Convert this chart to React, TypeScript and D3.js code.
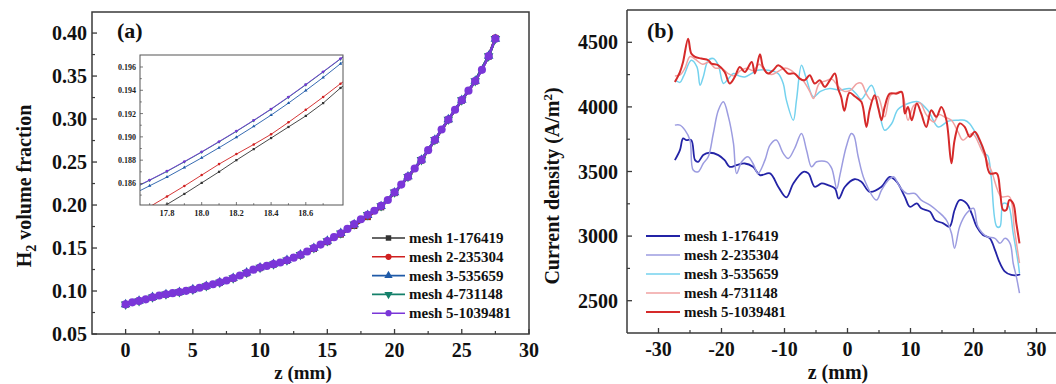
import React from 'react';
import * as d3 from 'd3';

const FONT = '"Liberation Serif", "Times New Roman", serif';

// ---------------- Panel (a) data ----------------
const zMain = [0, 0.5, 1, 1.5, 2, 2.5, 3, 3.5, 4, 4.5, 5, 5.5, 6, 6.5, 7, 7.5, 8, 8.5, 9, 9.5, 10, 10.5, 11, 11.5, 12, 12.5, 13, 13.5, 14, 14.5, 15, 15.5, 16, 16.5, 17, 17.5, 18, 18.5, 19, 19.5, 20, 20.5, 21, 21.5, 22, 22.5, 23, 23.5, 24, 24.5, 25, 25.5, 26, 26.5, 27, 27.5];
const mesh5Main = [0.0845, 0.0868, 0.0885, 0.0903, 0.0928, 0.0948, 0.0962, 0.0975, 0.0988, 0.1002, 0.1018, 0.1038, 0.1058, 0.1078, 0.1100, 0.1122, 0.1150, 0.1180, 0.1213, 0.1248, 0.1272, 0.1292, 0.1312, 0.1332, 0.1358, 0.1388, 0.1422, 0.1460, 0.1500, 0.1540, 0.1582, 0.1626, 0.1672, 0.1722, 0.1778, 0.1834, 0.1887, 0.1934, 0.1990, 0.2058, 0.2148, 0.2238, 0.2330, 0.2425, 0.2525, 0.2638, 0.2758, 0.2878, 0.2994, 0.3108, 0.3220, 0.3330, 0.3442, 0.3572, 0.3732, 0.3935];
const zMainCoarse = [0, 1, 2, 3, 4, 5, 6, 7, 8, 9, 10, 11, 12, 13, 14, 15, 16, 17, 18, 19, 20, 21, 22, 23, 24, 25, 26, 27, 27.5];
const mesh1Main = [0.0843, 0.0884, 0.0925, 0.0960, 0.0986, 0.1015, 0.1055, 0.1097, 0.1146, 0.1208, 0.1268, 0.1308, 0.1352, 0.1415, 0.1490, 0.1570, 0.1658, 0.1758, 0.1861, 0.1975, 0.2140, 0.2325, 0.2520, 0.2752, 0.2990, 0.3215, 0.3440, 0.3728, 0.3940];
const mesh2Main = [0.0846, 0.0886, 0.0927, 0.0961, 0.0989, 0.1017, 0.1057, 0.1098, 0.1148, 0.1210, 0.1270, 0.1310, 0.1355, 0.1418, 0.1494, 0.1575, 0.1663, 0.1764, 0.1867, 0.1980, 0.2143, 0.2327, 0.2522, 0.2755, 0.2992, 0.3218, 0.3441, 0.3730, 0.3945];
const mesh3Main = [0.0844, 0.0885, 0.0929, 0.0963, 0.0987, 0.1019, 0.1059, 0.1101, 0.1151, 0.1214, 0.1273, 0.1313, 0.1359, 0.1423, 0.1501, 0.1583, 0.1673, 0.1775, 0.1882, 0.1985, 0.2146, 0.2331, 0.2527, 0.2760, 0.2996, 0.3222, 0.3444, 0.3735, 0.3930];
const mesh4Main = [0.0845, 0.0884, 0.0928, 0.0962, 0.0988, 0.1018, 0.1058, 0.1100, 0.1150, 0.1213, 0.1272, 0.1312, 0.1358, 0.1422, 0.1500, 0.1582, 0.1672, 0.1777, 0.1886, 0.1989, 0.2148, 0.2330, 0.2525, 0.2758, 0.2994, 0.3220, 0.3442, 0.3732, 0.3935];

const zInset = [17.6, 17.7, 17.8, 17.9, 18.0, 18.1, 18.2, 18.3, 18.4, 18.5, 18.6, 18.7, 18.8, 18.9];
const mesh1Inset = [0.18245, 0.18330, 0.18420, 0.18510, 0.18605, 0.18700, 0.18800, 0.18895, 0.18990, 0.19085, 0.19180, 0.19290, 0.19420, 0.19530];
const mesh2Inset = [0.18310, 0.18400, 0.18488, 0.18578, 0.18672, 0.18766, 0.18852, 0.18935, 0.19022, 0.19125, 0.19232, 0.19342, 0.19457, 0.19560];
const mesh3Inset = [0.18505, 0.18580, 0.18655, 0.18737, 0.18820, 0.18907, 0.18997, 0.19090, 0.19187, 0.19290, 0.19398, 0.19510, 0.19628, 0.19748];
const mesh4Inset = [0.18552, 0.18627, 0.18703, 0.18785, 0.18869, 0.18957, 0.19047, 0.19140, 0.19237, 0.19340, 0.19447, 0.19557, 0.19669, 0.19787];
const mesh5Inset = [0.18555, 0.18630, 0.18706, 0.18788, 0.18872, 0.18960, 0.19050, 0.19143, 0.19240, 0.19343, 0.19450, 0.19560, 0.19672, 0.19790];

const xTicksA = [0, 5, 10, 15, 20, 25, 30];
const yTicksA = [0.05, 0.10, 0.15, 0.20, 0.25, 0.30, 0.35, 0.40];
const xTicksInset = [17.8, 18.0, 18.2, 18.4, 18.6];
const yTicksInset = [0.186, 0.188, 0.190, 0.192, 0.194, 0.196];

const meshNames = ['mesh 1-176419', 'mesh 2-235304', 'mesh 3-535659', 'mesh 4-731148', 'mesh 5-1039481'];

// ---------------- Panel (b) data ----------------
const zB1 = [-27.4, -26.6, -26.1, -25.6, -24.8, -24.2, -23.7, -22.9, -21.9, -20.5, -19.5, -18.7, -17.6, -16.3, -15.0, -13.9, -12.3, -11.0, -9.7, -8.6, -7.0, -6.2, -5.2, -4.1, -3.1, -2.0, -1.4, -0.4, 1.1, 2.2, 3.5, 5.4, 6.7, 7.8, 9.1, 9.9, 11.0, 11.7, 13.1, 13.9, 15.2, 16.2, 17.0, 17.8, 18.9, 19.7, 20.5, 21.5, 22.6, 23.4, 24.2, 25.0, 26.0, 27.1, 27.4];
const cd1 = [3588, 3665, 3756, 3743, 3743, 3588, 3575, 3627, 3645, 3627, 3588, 3536, 3549, 3562, 3536, 3472, 3485, 3382, 3300, 3408, 3498, 3485, 3382, 3408, 3395, 3369, 3290, 3382, 3440, 3421, 3343, 3382, 3459, 3421, 3304, 3227, 3253, 3215, 3189, 3124, 3099, 3073, 3202, 3279, 3253, 3176, 3073, 3009, 2983, 2893, 2790, 2725, 2699, 2699, 2705];

const zB2 = [-27.4, -26.6, -25.8, -25.0, -24.5, -23.7, -22.9, -22.1, -21.3, -20.5, -19.7, -18.9, -18.1, -17.6, -16.8, -15.8, -15.0, -14.2, -13.1, -12.3, -11.3, -10.2, -9.4, -8.4, -7.3, -6.5, -5.7, -4.9, -3.3, -2.5, -1.7, -1.2, -0.2, 0.6, 1.0, 1.7, 2.7, 4.6, 5.4, 6.5, 7.3, 8.3, 9.4, 10.7, 11.7, 13.1, 14.4, 15.7, 16.5, 17.0, 17.8, 18.9, 20.0, 20.7, 22.1, 23.4, 24.2, 25.0, 25.8, 26.3, 26.8, 27.3];
const cd2 = [3859, 3859, 3820, 3743, 3511, 3498, 3562, 3614, 3794, 3974, 4039, 3923, 3717, 3485, 3575, 3614, 3562, 3485, 3588, 3704, 3743, 3640, 3601, 3678, 3794, 3665, 3536, 3575, 3575, 3524, 3369, 3472, 3691, 3794, 3780, 3614, 3434, 3279, 3356, 3434, 3459, 3382, 3330, 3330, 3279, 3240, 3189, 3124, 3022, 2906, 3073, 3176, 3215, 3073, 2996, 2983, 2944, 2983, 2944, 2790, 2686, 2558];

const zB3 = [-27.4, -26.6, -26.0, -24.8, -23.9, -23.4, -22.9, -22.1, -21.3, -20.5, -19.7, -18.9, -18.1, -17.2, -16.3, -15.2, -14.3, -12.6, -11.0, -10.2, -9.7, -8.6, -8.1, -7.3, -6.6, -5.4, -4.3, -2.8, -1.3, 0.4, 1.4, 2.2, 3.8, 4.9, 5.9, 7.0, 8.0, 9.6, 11.2, 12.8, 14.4, 16.0, 17.6, 18.6, 19.4, 20.9, 21.8, 22.3, 22.8, 23.7, 24.2, 24.7, 25.5, 26.3, 27.1, 27.3];
const cd3 = [4210, 4190, 4240, 4361, 4310, 4168, 4232, 4361, 4374, 4322, 4181, 4219, 4258, 4240, 4232, 4260, 4284, 4284, 4258, 4181, 4052, 3897, 4052, 4322, 4230, 4077, 4120, 4142, 4130, 4142, 4100, 4060, 4168, 4000, 3820, 3870, 3980, 4026, 4040, 3970, 3845, 3890, 3897, 3897, 3870, 3743, 3640, 3620, 3460, 3073, 3073, 3253, 3240, 3022, 2790, 2712];

const zB4 = [-27.4, -26.5, -25.8, -25.0, -24.2, -23.0, -22.0, -21.0, -20.0, -19.0, -18.0, -17.0, -16.0, -15.0, -14.0, -13.0, -12.0, -11.0, -10.0, -9.0, -8.0, -7.0, -6.0, -5.4, -4.5, -3.5, -2.5, -1.5, -0.5, 0.5, 1.5, 2.2, 3.0, 3.8, 4.8, 5.9, 6.8, 7.8, 8.6, 9.6, 10.5, 11.5, 12.5, 13.7, 14.5, 15.5, 16.5, 17.6, 18.3, 19.8, 21.3, 22.8, 24.4, 25.7, 26.5, 27.3];
const cd4 = [4240, 4250, 4300, 4390, 4370, 4330, 4345, 4300, 4300, 4260, 4240, 4280, 4300, 4280, 4330, 4270, 4250, 4275, 4300, 4285, 4240, 4200, 4120, 4065, 4180, 4200, 4215, 4160, 4120, 4130, 4180, 4183, 4100, 4052, 4080, 3923, 4090, 4110, 4116, 3897, 4010, 4030, 3940, 3884, 3940, 3920, 3897, 3800, 3743, 3794, 3665, 3511, 3305, 3305, 3048, 2790];

const zB5 = [-27.4, -26.6, -26.1, -25.3, -24.8, -24.2, -23.2, -22.1, -21.6, -20.5, -19.5, -18.7, -17.9, -17.1, -16.3, -15.2, -14.7, -13.9, -13.4, -12.6, -11.8, -11.0, -10.2, -9.4, -8.4, -7.6, -6.8, -6.0, -5.2, -4.4, -3.6, -2.8, -2.0, -1.5, -1.0, -0.5, 0.3, 1.2, 2.2, 3.0, 3.5, 4.3, 4.9, 5.4, 5.9, 6.7, 7.8, 8.6, 9.1, 9.6, 10.2, 11.0, 11.7, 12.5, 13.3, 14.1, 14.9, 15.7, 16.5, 17.0, 17.8, 18.6, 19.4, 20.2, 21.0, 21.8, 22.6, 23.7, 24.2, 24.7, 25.2, 25.7, 26.3, 26.8, 27.3];
const cd5 = [4193, 4270, 4348, 4528, 4413, 4387, 4374, 4361, 4335, 4322, 4270, 4181, 4232, 4309, 4270, 4348, 4258, 4407, 4309, 4258, 4284, 4322, 4296, 4258, 4258, 4219, 4206, 4245, 4181, 4206, 4155, 4206, 4258, 4142, 4077, 3970, 4110, 4080, 4039, 3845, 3974, 4090, 3988, 3897, 4000, 4103, 4103, 4116, 3949, 4000, 3897, 4026, 3949, 3845, 3974, 3923, 4000, 3897, 3563, 3743, 3872, 3845, 3768, 3807, 3743, 3640, 3485, 3485, 3356, 3202, 3202, 3279, 3253, 3099, 2944];

const xTicksB = [-30, -20, -10, 0, 10, 20, 30];
const yTicksB = [2500, 3000, 3500, 4000, 4500];

// ---------------- styles ----------------
const colorsA = ['#333333', '#d02020', '#1f5aa8', '#14806a', '#7a36d8'];
const symbolsA = [d3.symbolSquare, d3.symbolCircle, d3.symbolTriangle, d3.symbolTriangle, d3.symbolCircle];
const rotateA = [0, 0, 0, 180, 0];
const colorsB = ['#2323a6', '#9c9ce0', '#74d2ee', '#f0a2a2', '#d62a2a'];
const widthsB = [1.8, 1.5, 1.5, 1.5, 2];

// Layout
const A = { left: 92, right: 529, top: 12, bottom: 334 };
const INS = { left: 140, right: 343, top: 55, bottom: 205 };
const B = { left: 627, right: 1068, top: 10, bottom: 333 };

export default function App() {
  const xA = d3.scaleLinear().domain([-2.5, 30]).range([A.left, A.right]);
  const yA = d3.scaleLinear().domain([0.05, 0.4245]).range([A.bottom, A.top]);
  const xI = d3.scaleLinear().domain([17.6444, 18.8144]).range([INS.left, INS.right]);
  const yI = d3.scaleLinear().domain([0.18415, 0.19703]).range([INS.bottom, INS.top]);
  const xB = d3.scaleLinear().domain([-35, 35]).range([B.left, B.right]);
  const yB = d3.scaleLinear().domain([2250, 4750]).range([B.bottom, B.top]);

  const mainSeries = [
    { z: zMainCoarse, v: mesh1Main },
    { z: zMainCoarse, v: mesh2Main },
    { z: zMainCoarse, v: mesh3Main },
    { z: zMainCoarse, v: mesh4Main },
    { z: zMain, v: mesh5Main },
  ];
  const insetSeries = [mesh1Inset, mesh2Inset, mesh3Inset, mesh4Inset, mesh5Inset];
  const bSeries = [
    { z: zB1, v: cd1 },
    { z: zB2, v: cd2 },
    { z: zB3, v: cd3 },
    { z: zB4, v: cd4 },
    { z: zB5, v: cd5 },
  ];

  const mkLine = (xs: number[], ys: number[], sx: any, sy: any, curve: any = d3.curveLinear) =>
    d3.line<number>().x((_, i) => sx(xs[i])).y((d) => sy(d)).curve(curve)(ys) || '';

  const sym = (i: number, size: number) => d3.symbol().type(symbolsA[i]).size(size)() || '';

  const axisColor = '#3a3a3a';
  const tickFont = { fontFamily: FONT, fontWeight: 700, fontSize: 20, fill: '#111' } as const;

  const xMinorA = [2.5, 7.5, 12.5, 17.5, 22.5, 27.5];
  const yMinorA = [0.075, 0.125, 0.175, 0.225, 0.275, 0.325, 0.375];
  const xMinorI = [17.7, 17.9, 18.1, 18.3, 18.5, 18.7];
  const yMinorI = [0.185, 0.187, 0.189, 0.191, 0.193, 0.195];
  const xMinorB = [-25, -15, -5, 5, 15, 25];
  const yMinorB = [2750, 3250, 3750, 4250];

  return (
    <svg width={1056} height={384} style={{ position: 'absolute', left: 0, top: 0, background: '#fff' }}>
      <defs>
        <clipPath id="clipA"><rect x={A.left} y={A.top} width={A.right - A.left} height={A.bottom - A.top} /></clipPath>
        <clipPath id="clipI"><rect x={INS.left} y={INS.top} width={INS.right - INS.left} height={INS.bottom - INS.top} /></clipPath>
        <clipPath id="clipB"><rect x={B.left} y={B.top} width={B.right - B.left} height={B.bottom - B.top} /></clipPath>
      </defs>
      <rect x={0} y={0} width={1056} height={384} fill="#fff" />

      {/* ---------- Panel (a) ---------- */}
      <g clipPath="url(#clipA)">
        {mainSeries.map((s, i) => (
          <g key={i}>
            <path d={mkLine(s.z, s.v, xA, yA)} fill="none" stroke={colorsA[i]} strokeWidth={2.5} />
            {s.v.map((v, j) => (
              <path key={j} d={sym(i, i === 4 ? 52 : 40)}
                transform={`translate(${xA(s.z[j])},${yA(v)}) rotate(${rotateA[i]})`}
                fill={colorsA[i]} />
            ))}
          </g>
        ))}
      </g>

      {/* inset */}
      <rect x={INS.left} y={INS.top} width={INS.right - INS.left} height={INS.bottom - INS.top} fill="#fff" />
      <g clipPath="url(#clipI)">
        {insetSeries.map((vals, i) => (
          <g key={i}>
            <path d={mkLine(zInset, vals, xI, yI)} fill="none" stroke={colorsA[i]} strokeWidth={0.9} />
            {vals.map((v, j) => (
              <path key={j} d={sym(i, 5)}
                transform={`translate(${xI(zInset[j])},${yI(v)}) rotate(${rotateA[i]})`}
                fill={colorsA[i]} />
            ))}
          </g>
        ))}
      </g>
      <rect x={INS.left} y={INS.top} width={INS.right - INS.left} height={INS.bottom - INS.top} fill="none" stroke="#555" strokeWidth={1} />
      {xTicksInset.map((t) => (
        <g key={t}>
          <line x1={xI(t)} x2={xI(t)} y1={INS.bottom} y2={INS.bottom - 3} stroke="#555" strokeWidth={0.8} />
          <text x={xI(t)} y={INS.bottom + 11} textAnchor="middle" fontFamily={FONT} fontWeight={700} fontSize={8.5} fill="#222">{t.toFixed(1)}</text>
        </g>
      ))}
      {xMinorI.map((t) => (
        <line key={t} x1={xI(t)} x2={xI(t)} y1={INS.bottom} y2={INS.bottom - 1.8} stroke="#555" strokeWidth={0.8} />
      ))}
      {yTicksInset.map((t) => (
        <g key={t}>
          <line x1={INS.left} x2={INS.left + 3} y1={yI(t)} y2={yI(t)} stroke="#555" strokeWidth={0.8} />
          <text x={INS.left - 4} y={yI(t) + 3} textAnchor="end" fontFamily={FONT} fontWeight={700} fontSize={8} fill="#222">{t.toFixed(3)}</text>
        </g>
      ))}
      {yMinorI.map((t) => (
        <line key={t} x1={INS.left} x2={INS.left + 1.8} y1={yI(t)} y2={yI(t)} stroke="#555" strokeWidth={0.8} />
      ))}

      {/* frame & ticks A */}
      <rect x={A.left} y={A.top} width={A.right - A.left} height={A.bottom - A.top} fill="none" stroke={axisColor} strokeWidth={1.5} />
      {xTicksA.map((t) => (
        <g key={t}>
          <line x1={xA(t)} x2={xA(t)} y1={A.bottom} y2={A.bottom - 5} stroke={axisColor} strokeWidth={1.3} />
          <text x={xA(t)} y={357} textAnchor="middle" {...tickFont}>{t}</text>
        </g>
      ))}
      {xMinorA.map((t) => (
        <line key={t} x1={xA(t)} x2={xA(t)} y1={A.bottom} y2={A.bottom - 3} stroke={axisColor} strokeWidth={1.2} />
      ))}
      {yTicksA.map((t) => (
        <g key={t}>
          <line x1={A.left} x2={A.left + 5} y1={yA(t)} y2={yA(t)} stroke={axisColor} strokeWidth={1.3} />
          <text x={87} y={yA(t) + 7} textAnchor="end" {...tickFont}>{t.toFixed(2)}</text>
        </g>
      ))}
      {yMinorA.map((t) => (
        <line key={t} x1={A.left} x2={A.left + 3} y1={yA(t)} y2={yA(t)} stroke={axisColor} strokeWidth={1.2} />
      ))}
      <text x={117} y={38} fontFamily={FONT} fontWeight={700} fontSize={22} fill="#111">(a)</text>
      <text x={303} y={379} textAnchor="middle" fontFamily={FONT} fontWeight={700} fontSize={19} fill="#111">z (mm)</text>
      <text transform="translate(31,186) rotate(-90)" textAnchor="middle" fontFamily={FONT} fontWeight={700} fontSize={20} fill="#111">
        H<tspan dy={5} fontSize={14}>2</tspan><tspan dy={-5}> volume fraction</tspan>
      </text>

      {/* legend A */}
      {meshNames.map((n, i) => {
        const y = 238 + i * 18.8;
        return (
          <g key={n}>
            <line x1={372} x2={405} y1={y} y2={y} stroke={colorsA[i]} strokeWidth={1.6} />
            <path d={sym(i, 30)} transform={`translate(388.5,${y}) rotate(${rotateA[i]})`} fill={colorsA[i]} />
            <text x={409} y={y + 5} fontFamily={FONT} fontWeight={700} fontSize={15} fill="#111">{n}</text>
          </g>
        );
      })}

      {/* ---------- Panel (b) ---------- */}
      <g clipPath="url(#clipB)">
        {bSeries.map((s, i) => (
          <path key={i} d={mkLine(s.z, s.v, xB, yB, d3.curveCatmullRom.alpha(0.5))} fill="none" stroke={colorsB[i]} strokeWidth={widthsB[i]} strokeLinejoin="round" />
        ))}
      </g>
      <line x1={B.left} x2={B.left} y1={B.top} y2={B.bottom} stroke={axisColor} strokeWidth={1.5} />
      <line x1={B.left} x2={B.right} y1={B.bottom} y2={B.bottom} stroke={axisColor} strokeWidth={1.5} />
      <line x1={B.left} x2={B.right} y1={B.top} y2={B.top} stroke={axisColor} strokeWidth={1.5} />
      {xTicksB.map((t) => (
        <g key={t}>
          <line x1={xB(t)} x2={xB(t)} y1={B.bottom} y2={B.bottom - 5} stroke={axisColor} strokeWidth={1.3} />
          <text x={xB(t)} y={356} textAnchor="middle" {...tickFont}>{t}</text>
        </g>
      ))}
      {xMinorB.map((t) => (
        <line key={t} x1={xB(t)} x2={xB(t)} y1={B.bottom} y2={B.bottom - 3} stroke={axisColor} strokeWidth={1.2} />
      ))}
      {yTicksB.map((t) => (
        <g key={t}>
          <line x1={B.left} x2={B.left + 5} y1={yB(t)} y2={yB(t)} stroke={axisColor} strokeWidth={1.3} />
          <text x={618} y={yB(t) + 7} textAnchor="end" {...tickFont}>{t}</text>
        </g>
      ))}
      {yMinorB.map((t) => (
        <line key={t} x1={B.left} x2={B.left + 3} y1={yB(t)} y2={yB(t)} stroke={axisColor} strokeWidth={1.2} />
      ))}
      <text x={647} y={38} fontFamily={FONT} fontWeight={700} fontSize={22} fill="#111">(b)</text>
      <text x={838} y={379} textAnchor="middle" fontFamily={FONT} fontWeight={700} fontSize={20} fill="#111">z (mm)</text>
      <text transform="translate(559,186) rotate(-90)" textAnchor="middle" fontFamily={FONT} fontWeight={700} fontSize={20} fill="#111">
        Current density (A/m<tspan dy={-7} fontSize={13}>2</tspan><tspan dy={7}>)</tspan>
      </text>

      {/* legend B */}
      {meshNames.map((n, i) => {
        const y = 236 + i * 19;
        return (
          <g key={n}>
            <line x1={646} x2={680} y1={y} y2={y} stroke={colorsB[i]} strokeWidth={widthsB[i]} />
            <text x={684} y={y + 5} fontFamily={FONT} fontWeight={700} fontSize={15} fill="#111">{n}</text>
          </g>
        );
      })}
    </svg>
  );
}
